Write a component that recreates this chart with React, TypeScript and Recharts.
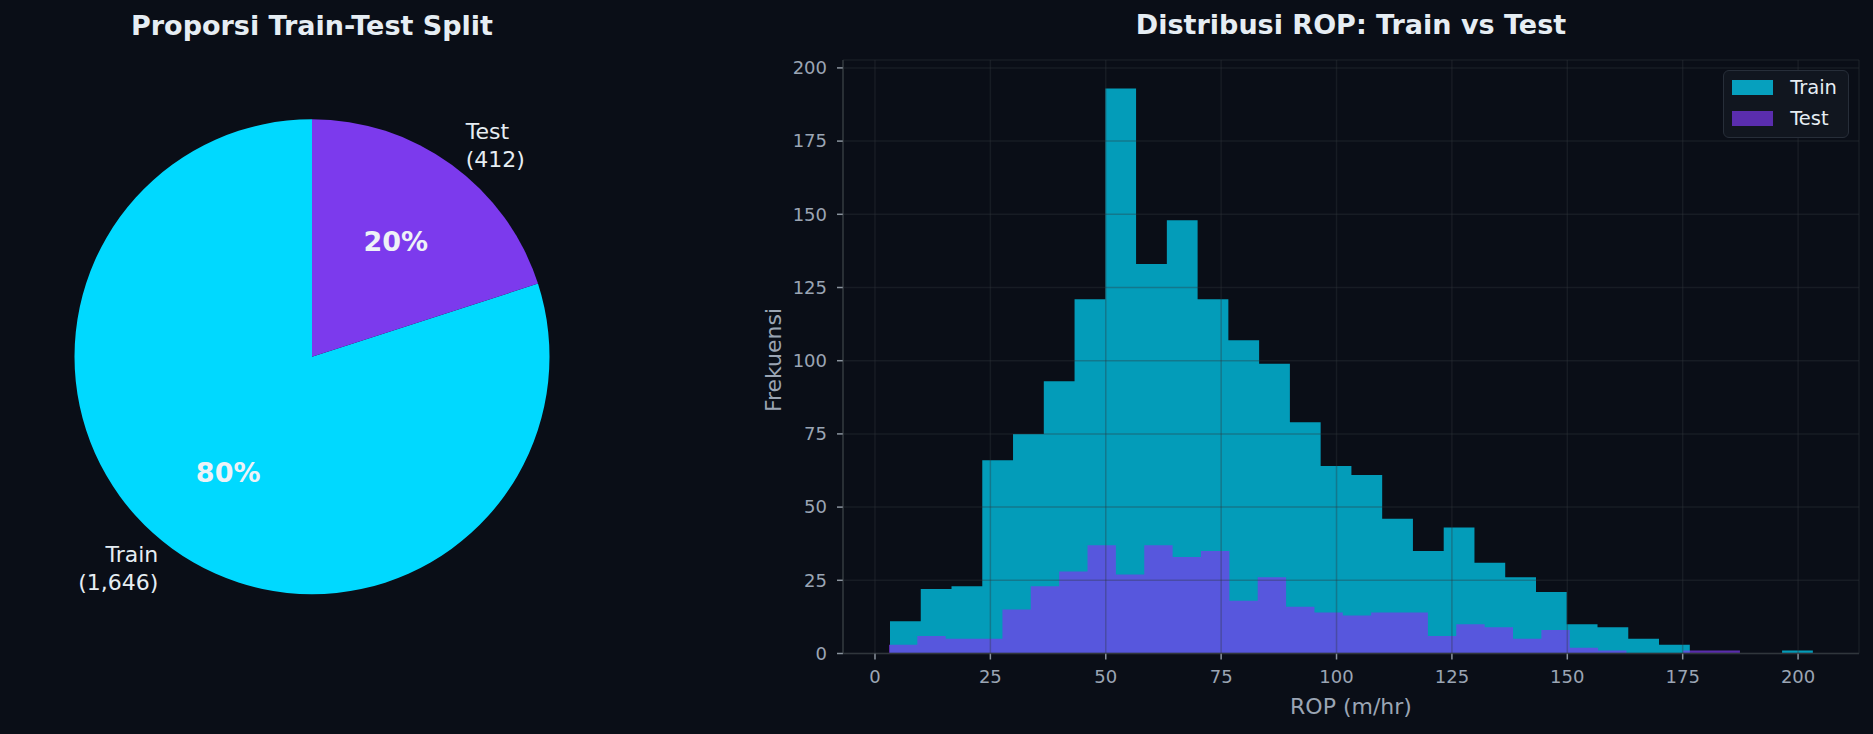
import React from 'react';
import { PieChart, Pie, Cell, ComposedChart, Area, XAxis, YAxis, CartesianGrid } from 'recharts';

// pie: train / test split
const splitNames = ['Train', 'Test'];
const splitCounts = [1646, 412];
const splitColors = ['#00d9ff', '#7c3aed'];

// histogram counts (30 bins each)
const trainCounts = [11, 22, 23, 66, 75, 93, 121, 193, 133, 148, 121, 107, 99, 79, 64, 61, 46, 35, 43, 31, 26, 21, 10, 9, 5, 3, 0, 0, 0, 1];
const testCounts = [3, 6, 5, 5, 15, 23, 28, 37, 27, 37, 33, 35, 18, 26, 16, 14, 13, 14, 14, 6, 10, 9, 5, 8, 2, 1, 0, 0, 1, 1];
// min / max ROP of each set (bin range)
const trainRange = [3.25, 203.2];
const testRange = [3.03, 187.4];

const xTicks = [0, 25, 50, 75, 100, 125, 150, 175, 200];
const yTicks = [0, 25, 50, 75, 100, 125, 150, 175, 200];
const xDomain = [-6.93, 213.2];
const yDomain = [0, 202.7];

const BG = '#0a0e17';
const FONT = '"DejaVu Sans", sans-serif';
const TEXT = '#e6edf3';
const MUTED = '#9ba5b4';
const SPINE = '#30363d';

// bin edges -> step points for a stepAfter area
function toSteps(counts: number[], range: number[]) {
  const w = (range[1] - range[0]) / counts.length;
  const pts = counts.map((c, i) => ({ x: range[0] + i * w, y: c }));
  pts.push({ x: range[1], y: counts[counts.length - 1] });
  return pts;
}

const trainSteps = toSteps(trainCounts, trainRange);
const testSteps = toSteps(testCounts, testRange);

const pieData = splitNames.map((name, i) => ({ name, value: splitCounts[i] }));

const RAD = Math.PI / 180;

const renderPieLabel = (props: any) => {
  const { cx, cy, midAngle, outerRadius, percent, name, value } = props;
  const cos = Math.cos(-midAngle * RAD);
  const sin = Math.sin(-midAngle * RAD);
  const lx = cx + outerRadius * 1.1 * cos;
  const ly = cy + outerRadius * 1.1 * sin;
  const px = cx + outerRadius * 0.6 * cos;
  const py = cy + outerRadius * 0.6 * sin;
  const anchor = cos >= 0 ? 'start' : 'end';
  return (
    <g>
      <text x={lx} y={ly} textAnchor={anchor} fill={TEXT} fontSize={22} fontFamily={FONT}>
        <tspan x={lx} y={ly - 13.8} dy="0.355em">{name}</tspan>
        <tspan x={lx} y={ly + 13.8} dy="0.355em">({value.toLocaleString('en-US')})</tspan>
      </text>
      <text x={px} y={py} dy="0.355em" textAnchor="middle" fill="#eef2f7" fontSize={27} fontWeight="bold" fontFamily={FONT}>
        {`${Math.round(percent * 100)}%`}
      </text>
    </g>
  );
};

function SplitPie() {
  return (
    <div style={{ position: 'absolute', left: 0, top: 0 }}>
      <PieChart width={624} height={734} margin={{ top: 0, right: 0, bottom: 0, left: 0 }}>
        <Pie
          data={pieData}
          dataKey="value"
          nameKey="name"
          cx={312}
          cy={356.7}
          outerRadius={237.5}
          startAngle={90}
          endAngle={450}
          stroke="none"
          label={renderPieLabel}
          labelLine={false}
          isAnimationActive={false}
        >
          {pieData.map((d, i) => (
            <Cell key={d.name} fill={splitColors[i]} />
          ))}
        </Pie>
      </PieChart>
    </div>
  );
}

function RopHistogram() {
  return (
    <div style={{ position: 'absolute', left: 740, top: 0 }}>
      <ComposedChart width={1133} height={734} margin={{ top: 60, right: 14, bottom: 20.5, left: 43 }}>
        <XAxis
          dataKey="x"
          type="number"
          domain={xDomain}
          ticks={xTicks}
          allowDataOverflow
          height={60}
          tickSize={6}
          tickMargin={11}
          tick={{ fill: MUTED, fontSize: 18, fontFamily: FONT }}
          tickLine={{ stroke: '#8b949e', strokeWidth: 1.5 }}
          axisLine={{ stroke: SPINE, strokeWidth: 1.6 }}
        />
        <XAxis
          xAxisId="top"
          orientation="top"
          type="number"
          domain={xDomain}
          height={0}
          tick={false}
          tickLine={false}
          axisLine={{ stroke: SPINE, strokeWidth: 1.6 }}
        />
        <YAxis
          type="number"
          domain={yDomain}
          ticks={yTicks}
          allowDataOverflow
          width={60}
          tickSize={6}
          tickMargin={10}
          tick={{ fill: MUTED, fontSize: 18, fontFamily: FONT }}
          tickLine={{ stroke: '#8b949e', strokeWidth: 1.5 }}
          axisLine={{ stroke: SPINE, strokeWidth: 1.6 }}
        />
        <YAxis
          yAxisId="right"
          orientation="right"
          type="number"
          domain={yDomain}
          width={0}
          tick={false}
          tickLine={false}
          axisLine={{ stroke: SPINE, strokeWidth: 1.6 }}
        />
        <Area
          data={trainSteps}
          dataKey="y"
          type="stepAfter"
          fill="#00d9ff"
          fillOpacity={0.7}
          stroke="none"
          name="Train"
          isAnimationActive={false}
        />
        <Area
          data={testSteps}
          dataKey="y"
          type="stepAfter"
          fill="#7c3aed"
          fillOpacity={0.7}
          stroke="none"
          name="Test"
          isAnimationActive={false}
        />
        <CartesianGrid stroke={SPINE} strokeOpacity={0.35} strokeWidth={1.5} zIndex={500} />
      </ComposedChart>
    </div>
  );
}

function HistLegend() {
  const items = [
    { name: 'Train', color: '#06a0be' },
    { name: 'Test', color: '#5a2dae' },
  ];
  return (
    <div
      style={{
        position: 'absolute',
        left: 1722.5,
        top: 70,
        width: 126.5,
        height: 68.3,
        boxSizing: 'border-box',
        background: '#11161f',
        border: '1.5px solid #272e39',
        borderRadius: 6,
        fontFamily: FONT,
        fontSize: 19.5,
        color: TEXT,
      }}
    >
      {items.map((it, i) => (
        <div key={it.name} style={{ position: 'absolute', left: 8.5, top: 8.5 + i * 31, height: 16, display: 'flex', alignItems: 'center' }}>
          <div style={{ width: 40.7, height: 14.7, background: it.color }} />
          <span style={{ marginLeft: 17.5, lineHeight: '16px' }}>{it.name}</span>
        </div>
      ))}
    </div>
  );
}

export default function App() {
  return (
    <div style={{ position: 'absolute', left: 0, top: 0, width: 1873, height: 734, background: BG, overflow: 'hidden' }}>
      <SplitPie />
      <RopHistogram />
      <HistLegend />
      <svg width={1873} height={734} style={{ position: 'absolute', left: 0, top: 0, pointerEvents: 'none' }}>
        <text x={312} y={35} textAnchor="middle" fill={TEXT} fontSize={27} fontWeight="bold" fontFamily={FONT}>
          Proporsi Train-Test Split
        </text>
        <text x={1351} y={34.3} textAnchor="middle" fill={TEXT} fontSize={27} fontWeight="bold" fontFamily={FONT}>
          Distribusi ROP: Train vs Test
        </text>
        <text x={1351} y={714} textAnchor="middle" fill={MUTED} fontSize={22} fontFamily={FONT}>
          ROP (m/hr)
        </text>
        <text transform="translate(780.7,360) rotate(-90)" textAnchor="middle" fill={MUTED} fontSize={22} fontFamily={FONT}>
          Frekuensi
        </text>
      </svg>
    </div>
  );
}
